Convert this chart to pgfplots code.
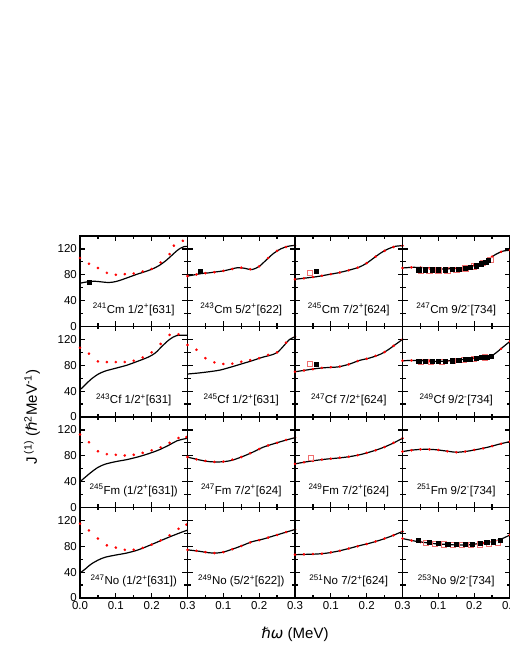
\documentclass[border=0pt]{standalone}
\usepackage{fontspec}
\setmainfont{Liberation Sans}
\newfontfamily\dejavu{DejaVu Sans}
\usepackage{pgfplots}
\pgfplotsset{compat=1.18}
\definecolor{opred}{RGB}{240,110,110}
\newcommand{\hb}{{\dejavu\itshape ℏ}}
\pgfplotsset{
  panel/.style={
    scale only axis, width=107.5pt, height=90.5pt,
    anchor=south west,
    xmin=0, xmax=0.3, ymin=0, ymax=140,
    xtick={0,0.1,0.2,0.3}, minor x tick num=1,
    ytick={0,40,80,120}, minor y tick num=1,
    tick align=inside,
    major tick length=5pt, minor tick length=3pt,
    axis line style={line width=1.7pt},
    every axis/.append style={line width=1.7pt},
    every tick/.style={black, line width=1.2pt},
    xticklabels={}, yticklabels={},
    xticklabel style={font=\fontsize{11.5}{13}\selectfont, yshift=1pt},
    yticklabel style={font=\fontsize{11.5}{13}\selectfont, xshift=1pt},
    /pgf/number format/assume math mode=true,
    clip=false,
  },
  ylab/.style={yticklabels={0,40,80,120}},
  xlab1/.style={xticklabels={0.0,0.1,0.2,0.3}},
  xlab/.style={xticklabels={,0.1,0.2,0.3}},
  calc/.style={black, line width=1.2pt, smooth, tension=0.5, no marks},
  dots/.style={only marks, mark=*, mark size=1.2pt, red, line width=0.2pt, mark options={fill=red, draw=red, line width=0.2pt}},
  expb/.style={only marks, mark=square*, mark size=2.1pt, black, line width=0.4pt, mark options={line width=0.4pt}},
  expr/.style={only marks, mark=square, mark size=2.6pt, opred, line width=0.6pt, mark options={line width=0.6pt}},
}
\newcommand{\lab}[1]{\node[font=\fontsize{11.5}{13}\selectfont] at (rel axis cs:0.5,0.19) {#1};}
\begin{document}
\begin{tikzpicture}
\useasboundingbox (0,0) rectangle (510pt,660pt);
% ---------------- Row 1 ----------------
\begin{axis}[panel, ylab, at={(80pt,333.5pt)}]
\addplot[calc] coordinates {(0,67)(0.02,69)(0.04,70)(0.06,69)(0.08,68)(0.10,69.5)(0.12,73)(0.14,77)(0.16,81)(0.18,84.5)(0.20,88.5)(0.22,94)(0.24,102)(0.26,112)(0.27,117)(0.28,121)(0.29,123.5)(0.30,124)};
\addplot[dots] coordinates {(0,106)(0.025,97)(0.05,90.5)(0.075,83)(0.1,80)(0.125,81)(0.15,82)(0.175,85)(0.2,89)(0.225,99)(0.25,112)(0.262,125)(0.287,132.5)};
\addplot[expb] coordinates {(0.026,69)};
\lab{\textsuperscript{241}Cm 1/2\textsuperscript{+}[631]}
\end{axis}
\begin{axis}[panel, at={(187.5pt,333.5pt)}]
\addplot[calc] coordinates {(0,78)(0.02,80)(0.04,82)(0.06,83)(0.08,84.5)(0.10,86)(0.12,88.5)(0.14,91)(0.16,90)(0.18,88)(0.20,93)(0.22,103)(0.24,113)(0.26,120)(0.28,124)(0.30,125.5)};
\addplot[dots] coordinates {(0,78)(0.025,80.5)(0.05,82.5)(0.075,84)(0.1,86)(0.125,89)(0.15,91)(0.175,88.5)(0.2,93)(0.225,106)(0.25,117)(0.275,123)(0.3,125.5)};
\addplot[expb] coordinates {(0.035,85)};
\lab{\textsuperscript{243}Cm 5/2\textsuperscript{+}[622]}
\end{axis}
\begin{axis}[panel, at={(295pt,333.5pt)}]
\addplot[calc] coordinates {(0,73)(0.03,75)(0.06,77)(0.09,80)(0.12,83)(0.15,87)(0.18,92)(0.20,98)(0.22,106)(0.24,114)(0.26,120)(0.28,124)(0.30,125)};
\addplot[dots] coordinates {(0,73)(0.025,74.5)(0.05,76.5)(0.075,78.5)(0.1,81)(0.125,83.5)(0.15,87)(0.175,91)(0.2,98)(0.225,108)(0.25,117)(0.275,123)(0.3,125)};
\addplot[expr] coordinates {(0.041,83)};
\addplot[expb] coordinates {(0.059,85)};
\lab{\textsuperscript{245}Cm 7/2\textsuperscript{+}[624]}
\end{axis}
\begin{axis}[panel, at={(402.5pt,333.5pt)}]
\addplot[calc] coordinates {(0,90.5)(0.03,91.5)(0.06,91)(0.09,89.5)(0.12,89)(0.15,90)(0.18,92)(0.20,94.5)(0.22,98.5)(0.24,104)(0.26,111.5)(0.28,116.5)(0.30,118)};
\addplot[dots] coordinates {(0,90.5)(0.025,91.5)(0.05,91)(0.075,90)(0.1,89)(0.125,89)(0.15,90)(0.175,91.5)(0.2,94.5)(0.225,99.5)(0.25,108)(0.275,115.5)(0.3,118)};
\addplot[expr] coordinates {(0.05,87)(0.075,86)(0.1,87)(0.125,87)(0.15,88)(0.175,90)(0.2,93)(0.225,98)(0.245,103)};
\addplot[expb] coordinates {(0.045,88)(0.063,88)(0.082,88)(0.1,88)(0.12,88)(0.138,89)(0.157,89)(0.175,90)(0.19,92)(0.205,94)(0.22,97)(0.232,100)(0.24,103)};
\lab{\textsuperscript{247}Cm 9/2\textsuperscript{-}[734]}
\end{axis}
% ---------------- Row 2 ----------------
\begin{axis}[panel, ylab, at={(80pt,243pt)}]
\addplot[calc] coordinates {(0,42)(0.015,50)(0.03,58)(0.05,66)(0.07,71)(0.10,75.5)(0.13,80)(0.16,86)(0.19,92.5)(0.21,99)(0.23,110)(0.25,120)(0.27,126)(0.30,126.5)};
\addplot[dots] coordinates {(0,107)(0.025,98)(0.05,86)(0.075,85)(0.1,85)(0.125,85)(0.15,87)(0.175,92)(0.2,100)(0.225,113)(0.25,127)(0.275,128)};
\lab{\textsuperscript{243}Cf 1/2\textsuperscript{+}[631]}
\end{axis}
\begin{axis}[panel, at={(187.5pt,243pt)}]
\addplot[calc] coordinates {(0,66.5)(0.03,68)(0.06,70)(0.09,72.5)(0.12,77)(0.15,82)(0.18,87)(0.21,92.5)(0.24,97)(0.255,102)(0.27,111)(0.285,120)(0.30,124)};
\addplot[dots] coordinates {(0,111.5)(0.025,104)(0.05,91)(0.075,84.5)(0.1,82)(0.125,82.5)(0.15,85.5)(0.175,88)(0.2,91)(0.225,96)(0.25,100)(0.275,115)(0.3,124)};
\lab{\textsuperscript{245}Cf 1/2\textsuperscript{+}[631]}
\end{axis}
\begin{axis}[panel, at={(295pt,243pt)}]
\addplot[calc] coordinates {(0,70)(0.03,72.5)(0.06,75)(0.09,76.5)(0.12,77.5)(0.15,81.5)(0.18,87.5)(0.21,91.5)(0.24,97.5)(0.26,104)(0.28,112)(0.30,120)};
\addplot[dots] coordinates {(0,70)(0.025,72)(0.05,74)(0.075,76)(0.1,77)(0.125,78)(0.15,81.5)(0.175,86.5)(0.2,90)(0.225,94.5)(0.25,100.5)(0.275,110)(0.3,120)};
\addplot[expr] coordinates {(0.041,82)};
\addplot[expb] coordinates {(0.059,82)};
\lab{\textsuperscript{247}Cf 7/2\textsuperscript{+}[624]}
\end{axis}
\begin{axis}[panel, at={(402.5pt,243pt)}]
\addplot[calc] coordinates {(0,87)(0.03,87.5)(0.06,87)(0.09,86)(0.12,86.5)(0.15,88)(0.18,89.5)(0.21,91.5)(0.24,94)(0.25,95)(0.265,101)(0.28,108)(0.30,117)};
\addplot[dots] coordinates {(0,87)(0.025,87.5)(0.05,87)(0.075,86.5)(0.1,86)(0.125,86.5)(0.15,88)(0.175,89)(0.2,91)(0.225,92.5)(0.25,95)(0.275,105.5)(0.3,117)};
\addplot[expr] coordinates {(0.05,85.5)(0.08,85)(0.11,85.5)(0.14,86.5)(0.17,88)(0.2,90)(0.23,92.5)};
\addplot[expb] coordinates {(0.045,86)(0.063,86)(0.082,86)(0.1,86)(0.12,86.5)(0.138,87)(0.157,88)(0.175,89)(0.19,90)(0.205,91)(0.22,92)(0.235,93)(0.248,94)};
\lab{\textsuperscript{249}Cf 9/2\textsuperscript{-}[734]}
\end{axis}
% ---------------- Row 3 ----------------
\begin{axis}[panel, ylab, at={(80pt,152.5pt)}]
\addplot[calc] coordinates {(0,40)(0.015,47)(0.03,54)(0.05,62)(0.07,67)(0.10,71)(0.13,74)(0.16,78)(0.19,83)(0.22,89)(0.25,97)(0.27,103)(0.29,106)(0.30,107)};
\addplot[dots] coordinates {(0,113)(0.025,101)(0.05,87)(0.075,82.5)(0.1,81.5)(0.125,80.5)(0.15,81.5)(0.175,84.5)(0.2,88.5)(0.225,93)(0.25,100)(0.275,107.5)(0.297,109)};
\lab{\textsuperscript{245}Fm (1/2\textsuperscript{+}[631])}
\end{axis}
\begin{axis}[panel, at={(187.5pt,152.5pt)}]
\addplot[calc] coordinates {(0,78)(0.03,74)(0.06,71)(0.09,70.5)(0.12,72.5)(0.15,78)(0.18,85)(0.21,93)(0.24,98.5)(0.27,103.5)(0.30,108)};
\addplot[dots] coordinates {(0,78)(0.025,74.5)(0.05,72)(0.075,70.5)(0.1,71)(0.125,74)(0.15,78)(0.175,84)(0.2,90.5)(0.225,96)(0.25,100)(0.275,104.5)(0.3,108)};
\lab{\textsuperscript{247}Fm 7/2\textsuperscript{+}[624]}
\end{axis}
\begin{axis}[panel, at={(295pt,152.5pt)}]
\addplot[calc] coordinates {(0,67.5)(0.03,70.5)(0.06,73)(0.09,75)(0.12,76.5)(0.15,78.5)(0.18,81.5)(0.21,86)(0.24,91.5)(0.27,98.5)(0.30,107)};
\addplot[dots] coordinates {(0,67.5)(0.025,70)(0.05,72)(0.075,74)(0.1,75.5)(0.125,77)(0.15,78.5)(0.175,81)(0.2,84.5)(0.225,88.5)(0.25,93.5)(0.275,100)(0.3,107)};
\addplot[expr] coordinates {(0.043,76.5)};
\lab{\textsuperscript{249}Fm 7/2\textsuperscript{+}[624]}
\end{axis}
\begin{axis}[panel, at={(402.5pt,152.5pt)}]
\addplot[calc] coordinates {(0,86.5)(0.03,89)(0.06,90)(0.09,89.5)(0.12,87.5)(0.15,85.5)(0.18,87)(0.21,90)(0.24,93.5)(0.27,98)(0.30,102)};
\addplot[dots] coordinates {(0,86.5)(0.025,88.5)(0.05,90)(0.075,90)(0.1,89)(0.125,87)(0.15,85.5)(0.175,86.5)(0.2,89)(0.225,91.5)(0.25,95)(0.275,98.5)(0.3,102)};
\lab{\textsuperscript{251}Fm 9/2\textsuperscript{-}[734]}
\end{axis}
% ---------------- Row 4 ----------------
\begin{axis}[panel, ylab, xlab1, at={(80pt,62pt)}]
\addplot[calc] coordinates {(0,38.5)(0.015,45)(0.03,52)(0.05,58.5)(0.07,63)(0.10,66.5)(0.13,69.5)(0.16,74)(0.19,80.5)(0.22,87.5)(0.25,94.5)(0.28,101)(0.30,105)};
\addplot[dots] coordinates {(0,115)(0.025,104.5)(0.05,92)(0.075,81.5)(0.1,78)(0.125,74.5)(0.15,74.5)(0.175,77.5)(0.2,82.5)(0.225,89)(0.25,97)(0.275,107)(0.297,113.5)};
\lab{\textsuperscript{247}No (1/2\textsuperscript{+}[631])}
\end{axis}
\begin{axis}[panel, xlab, at={(187.5pt,62pt)}]
\addplot[calc] coordinates {(0,74.5)(0.03,72.5)(0.06,70)(0.08,69.5)(0.10,71)(0.12,74.5)(0.15,80.5)(0.18,87)(0.21,91)(0.24,96)(0.27,101)(0.30,106)};
\addplot[dots] coordinates {(0,74.5)(0.025,73)(0.05,71)(0.075,69.5)(0.1,71)(0.125,75.5)(0.15,80.5)(0.175,86)(0.2,89.5)(0.225,93.5)(0.25,97.5)(0.275,102)(0.3,106)};
\lab{\textsuperscript{249}No (5/2\textsuperscript{+}[622])}
\end{axis}
\begin{axis}[panel, xlab, at={(295pt,62pt)}]
\addplot[calc] coordinates {(0,67)(0.03,67.5)(0.06,68)(0.09,69.5)(0.12,72.5)(0.15,76.5)(0.18,81)(0.21,85)(0.24,90)(0.27,96)(0.30,103)};
\addplot[dots] coordinates {(0,67)(0.025,67.5)(0.05,68)(0.075,68.5)(0.1,70.5)(0.125,73)(0.15,76.5)(0.175,80)(0.2,83.5)(0.225,87.5)(0.25,92)(0.275,97)(0.3,103)};
\lab{\textsuperscript{251}No 7/2\textsuperscript{+}[624]}
\end{axis}
\begin{axis}[panel, xlab, at={(402.5pt,62pt)}]
\addplot[calc] coordinates {(0,92)(0.03,88.5)(0.06,86)(0.09,84)(0.12,83)(0.15,82)(0.18,82)(0.21,84)(0.24,86.5)(0.27,90)(0.30,97.5)};
\addplot[dots] coordinates {(0,92)(0.025,89)(0.05,86.5)(0.075,85)(0.1,83.5)(0.125,83)(0.15,82)(0.175,82)(0.2,83)(0.225,85)(0.25,87.5)(0.275,91)(0.3,97.5)};
\addplot[expr] coordinates {(0.065,86)(0.09,84)(0.115,83)(0.14,82)(0.165,82)(0.19,82)(0.215,83)(0.24,84)(0.265,86)};
\addplot[expb] coordinates {(0.043,89.5)(0.075,86)(0.1,84.5)(0.126,83.5)(0.15,83)(0.174,83)(0.195,83.5)(0.216,84.5)(0.235,86)(0.253,87)(0.272,89.5)};
\lab{\textsuperscript{253}No 9/2\textsuperscript{-}[734]}
\end{axis}
% axis titles
\node[font=\fontsize{15}{17}\selectfont] at (295pt,26pt) {\hb{\dejavu\itshape ω} (MeV)};
\node[font=\fontsize{15}{17}\selectfont, rotate=90] at (32pt,243pt) {J\,\textsuperscript{(1)} (\hb\textsuperscript{2}MeV\textsuperscript{-1})};
\end{tikzpicture}
\end{document}
